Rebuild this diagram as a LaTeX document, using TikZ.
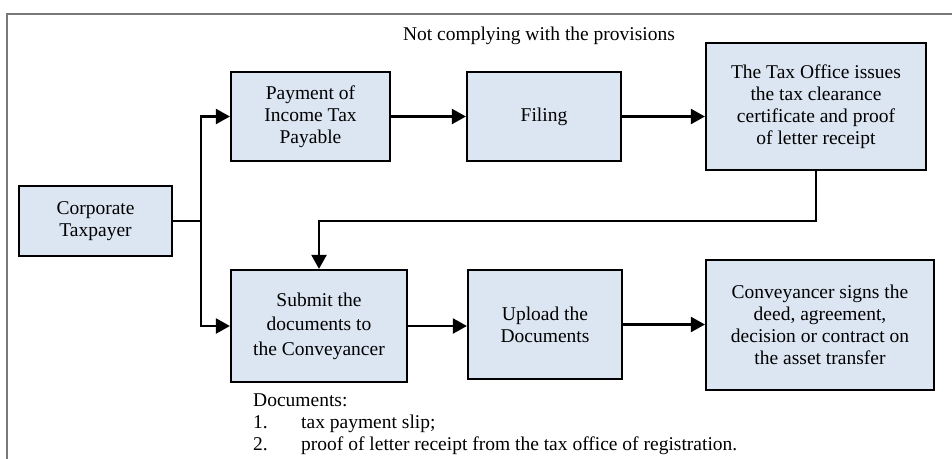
\documentclass[tikz,border=0pt]{standalone}
\usepackage{fontspec}
\setmainfont{Liberation Serif}
\usetikzlibrary{arrows.meta}
\definecolor{boxblue}{RGB}{220,230,242}
\definecolor{framegray}{RGB}{120,120,120}
\newcommand{\flowfont}{\fontsize{19.5}{22}\selectfont}
\tikzset{
  procbox/.style={draw=black, line width=2.2pt, fill=boxblue, align=center,
    inner sep=0pt, font=\flowfont},
  flow/.style={line width=2.2pt, -{Triangle[length=14pt,width=15pt]}},
  plain/.style={line width=2.2pt},
  note/.style={inner sep=0pt, font=\flowfont}
}
\begin{document}
\begin{tikzpicture}[x=1pt,y=-1pt]
\useasboundingbox (0,0) rectangle (952,458);
% outer frame (only its top and left edges fall on the page)
\draw[framegray, line width=2pt] (7,470) -- (7,14) -- (970,14);

\node[note, anchor=base] (title) at (539,40) {Not complying with the provisions};

% process boxes
\node[procbox, minimum width=153pt, minimum height=70pt] (corp) at (95.5,221) {Corporate\\Taxpayer};
\node[procbox, minimum width=159pt, minimum height=89pt] (pay) at (310.5,116.5) {Payment of\\Income Tax\\Payable};
\node[procbox, minimum width=154pt, minimum height=89pt] (filing) at (544,116.5) {Filing};
\node[procbox, minimum width=220pt, minimum height=127pt] (tax) at (816,106.5) {The Tax Office issues\\the tax clearance\\certificate and proof\\of letter receipt};
\node[procbox, minimum width=176pt, minimum height=112pt, font=\fontsize{19.5}{24.5}\selectfont] (submit) at (319,326) {Submit the\\documents to\\the Conveyancer};
\node[procbox, minimum width=154pt, minimum height=109pt] (upload) at (545,324.5) {Upload the\\Documents};
\node[procbox, minimum width=228pt, minimum height=130pt] (conv) at (820,325) {Conveyancer signs the\\deed, agreement,\\decision or contract on\\the asset transfer};

% connectors
\coordinate (split) at (201,221);
\draw[plain] (corp.east) -- (split);
\draw[flow] (split) |- (pay.west);
\draw[flow] (split) |- (submit.west);
\draw[flow] (pay.east) -- (pay.east -| filing.west);
\draw[flow] (filing.east) -- (filing.east -| tax.west);
\draw[flow] (tax.south) -- (tax.south |- split) -| (submit.north);
\draw[flow] (submit.east) -- (submit.east -| upload.west);
\draw[flow] (upload.east) -- (upload.east -| conv.west);

% list of documents
\node[note, anchor=base west] (doch) at (253,406) {Documents:};
\node[note, anchor=base west] (n1) at (253,428) {1.};
\node[note, anchor=base west] (d1) at (301,428) {tax payment slip;};
\node[note, anchor=base west] (n2) at (253,450) {2.};
\node[note, anchor=base west] (d2) at (301,450) {proof of letter receipt from the tax office of registration.};
\end{tikzpicture}
\end{document}
